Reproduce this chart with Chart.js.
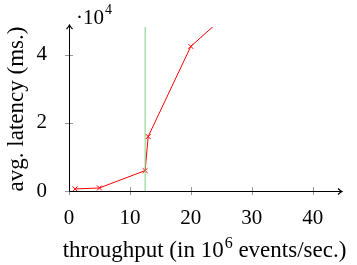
<!DOCTYPE html>
<html>
<head>
<meta charset="utf-8">
<script src="https://cdn.jsdelivr.net/npm/chart.js@4"></script>
<style>
  html, body { margin: 0; padding: 0; background: #fff; }
  #wrap { width: 357px; height: 265px; }
</style>
</head>
<body>
<div id="wrap"><canvas id="c"></canvas></div>
<script>
const throughput = [1, 5, 12.5, 13, 20, 30];
const latency = [600, 900, 6000, 16000, 42500, 58500];
const markerX = [12.5, 12.5];
const markerY = [0, 48200];
const xTicks = [0, 10, 20, 30, 40];
const yTicks = [0, 20000, 40000];

const X_MAX = 44;
const Y_MAX = 48200;
const FONT = "'Liberation Serif', serif";

const axesPlugin = {
  id: "axes",
  afterDraw(chart) {
    const { ctx, chartArea: a, scales } = chart;
    const x = scales.x, y = scales.y;
    ctx.save();

    // tick marks crossing the axes
    ctx.strokeStyle = "#999";
    ctx.lineWidth = 1;
    xTicks.forEach(v => {
      const px = Math.round(x.getPixelForValue(v)) + 0.5;
      ctx.beginPath();
      ctx.moveTo(px, a.bottom - 4);
      ctx.lineTo(px, a.bottom + 4);
      ctx.stroke();
    });
    yTicks.forEach(v => {
      const py = Math.round(y.getPixelForValue(v)) + 0.5;
      ctx.beginPath();
      ctx.moveTo(a.left - 4, py);
      ctx.lineTo(a.left + 4, py);
      ctx.stroke();
    });

    // axis lines with arrows
    ctx.strokeStyle = "#000";
    ctx.fillStyle = "#000";
    const left = Math.round(a.left) + 0.5;
    const bottom = Math.round(a.bottom) + 0.5;
    ctx.beginPath();
    ctx.moveTo(left, bottom);
    ctx.lineTo(a.right + 4, bottom);
    ctx.moveTo(left, bottom);
    ctx.lineTo(left, a.top - 1);
    ctx.stroke();

    ctx.lineWidth = 1.2;
    ctx.beginPath();
    ctx.moveTo(a.right + 1, bottom - 3);
    ctx.quadraticCurveTo(a.right + 3, bottom - 1, a.right + 5, bottom);
    ctx.quadraticCurveTo(a.right + 3, bottom + 1, a.right + 1, bottom + 3);
    ctx.stroke();
    ctx.beginPath();
    ctx.moveTo(left - 3, a.top + 2);
    ctx.quadraticCurveTo(left - 1, a.top, left, a.top - 2);
    ctx.quadraticCurveTo(left + 1, a.top, left + 3, a.top + 2);
    ctx.stroke();

    // scale factor label
    ctx.textBaseline = "alphabetic";
    ctx.textAlign = "left";
    ctx.font = "21px " + FONT;
    ctx.fillText("\u00b710", 76, 24);
    let w = ctx.measureText("\u00b710").width;
    ctx.font = "14px " + FONT;
    ctx.fillText("4", 76 + w + 1, 14);

    // x title
    const big = "23px " + FONT, small = "16px " + FONT;
    const t1 = "throughput (in 10", t2 = "6", t3 = " events/sec.)";
    ctx.font = big;
    const w1 = ctx.measureText(t1).width, w3 = ctx.measureText(t3).width;
    ctx.font = small;
    const w2 = ctx.measureText(t2).width;
    let sx = 204 - (w1 + w2 + w3) / 2;
    const by = 257;
    ctx.font = big;
    ctx.fillText(t1, sx, by);
    ctx.font = small;
    ctx.fillText(t2, sx + w1 + 1, by - 9);
    ctx.font = big;
    ctx.fillText(t3, sx + w1 + w2 + 1, by);

    // y title
    ctx.translate(23, 109);
    ctx.rotate(-Math.PI / 2);
    ctx.textAlign = "center";
    ctx.fillText("avg. latency (ms.)", 0, 0);
    ctx.restore();
  }
};

new Chart(document.getElementById("c"), {
  type: "line",
  data: {
    datasets: [
      {
        data: markerX.map((v, i) => ({ x: v, y: markerY[i] })),
        borderColor: "#7fd17f",
        borderWidth: 1,
        pointRadius: 0,
        tension: 0
      },
      {
        data: throughput.map((v, i) => ({ x: v, y: latency[i] })),
        borderColor: "#ff0000",
        borderWidth: 1,
        pointStyle: "crossRot",
        pointRadius: 3.5,
        pointBorderColor: "#ff0000",
        pointBorderWidth: 1,
        tension: 0
      }
    ]
  },
  plugins: [axesPlugin],
  options: {
    animation: false,
    responsive: true,
    maintainAspectRatio: false,
    layout: { padding: { left: 0, top: 27, right: 20, bottom: 0 } },
    scales: {
      x: {
        type: "linear",
        min: 0,
        max: X_MAX,
        afterBuildTicks: s => { s.ticks = xTicks.map(v => ({ value: v })); },
        afterFit: s => { s.height = 74; },
        grid: { display: false },
        border: { display: false },
        ticks: {
          color: "#000",
          padding: 7,
          maxRotation: 0,
          font: { family: FONT, size: 21 }
        }
      },
      y: {
        type: "linear",
        min: 0,
        max: Y_MAX,
        afterBuildTicks: s => { s.ticks = yTicks.map(v => ({ value: v })); },
        afterFit: s => { s.width = 69; },
        grid: { display: false },
        border: { display: false },
        ticks: {
          color: "#000",
          padding: 14,
          font: { family: FONT, size: 21 },
          callback: v => String(v / 10000)
        }
      }
    },
    plugins: {
      legend: { display: false },
      tooltip: { enabled: false }
    }
  }
});
</script>
</body>
</html>
